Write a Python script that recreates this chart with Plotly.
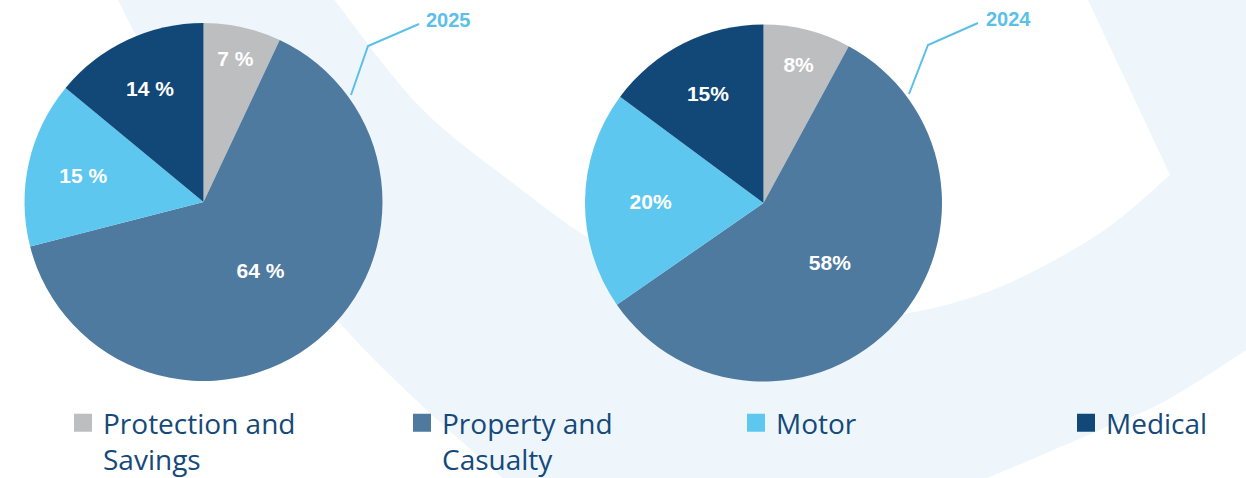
import plotly.graph_objects as go

# ---------------- data ----------------
categories = ["Protection and<br>Savings", "Property and<br>Casualty", "Motor", "Medical"]
values_2025 = [7, 64, 15, 14]
values_2024 = [8, 58, 20, 15]
years = ["2025", "2024"]

colors = ["#BDBEC0", "#4E7AA0", "#5DC7F0", "#124878"]
W, H = 1246, 478
BG_LIGHT = "#EEF6FC"
ACCENT = "#5BC0E8"
NAVY = "#15497A"


def P(x, y):
    return x / W, 1 - y / H


def smooth(pts):
    """Catmull-Rom through pixel points -> SVG cubic segments in paper coords."""
    out = []
    n = len(pts)
    for i in range(n - 1):
        p0 = pts[i - 1] if i > 0 else pts[i]
        p1 = pts[i]
        p2 = pts[i + 1]
        p3 = pts[i + 2] if i + 2 < n else pts[i + 1]
        c1 = (p1[0] + (p2[0] - p0[0]) / 6, p1[1] + (p2[1] - p0[1]) / 6)
        c2 = (p2[0] - (p3[0] - p1[0]) / 6, p2[1] - (p3[1] - p1[1]) / 6)
        a, b, c = P(*c1), P(*c2), P(*p2)
        out.append(f"C {a[0]:.5f},{a[1]:.5f} {b[0]:.5f},{b[1]:.5f} {c[0]:.5f},{c[1]:.5f}")
    return " ".join(out)


def pt(x, y):
    a = P(x, y)
    return f"{a[0]:.5f},{a[1]:.5f}"


inner = [(333, -2), (420, 107), (513, 183), (587, 237), (650, 270), (750, 300),
         (850, 316), (910, 313), (1000, 287), (1100, 233), (1170, 175)]
right_outer = [(1248, 349), (1167, 400), (1100, 430), (983, 480)]
left_outer = [(505, 480), (416, 400), (340, 323), (240, 200), (174, 100), (140, 43), (117, -2)]

bg_path = (
    f"M {pt(117, -2)} L {pt(333, -2)} " + smooth(inner) +
    f" L {pt(1087, -2)} L {pt(1248, -2)} L {pt(1248, 349)} " + smooth(right_outer) +
    f" L {pt(505, 480)} " + smooth(left_outer) + " Z"
)

fig = go.Figure()

domains = [
    dict(x=[22.5 / W, 384.5 / W], y=[1 - 381 / H, 1 - 23 / H]),
    dict(x=[585 / W, 942 / W], y=[1 - 382 / H, 1 - 24 / H]),
]
templates = ["%{value} %", "%{value}%"]

for vals, dom, tpl, yr in zip([values_2025, values_2024], domains, templates, years):
    fig.add_trace(go.Pie(
        labels=categories,
        values=vals,
        name=yr,
        sort=False,
        direction="clockwise",
        rotation=0,
        domain=dom,
        marker=dict(colors=colors, line=dict(width=0)),
        texttemplate=tpl,
        textposition="inside",
        insidetextorientation="horizontal",
        insidetextfont=dict(family="Liberation Sans, Arial, sans-serif", size=21,
                            color="white", weight="bold"),
        showlegend=False,
        hoverinfo="label+value",
    ))

# legend entries (one per category, colour-keyed like the slices)
legend_widths = [294, 289, 285, 120]
for cat, col, lw in zip(categories, colors, legend_widths):
    fig.add_trace(go.Scatter(
        x=[None], y=[None], mode="markers", name=cat,
        marker=dict(symbol="square", size=16, color=col, line=dict(width=2, color=col)),
        legendwidth=lw, showlegend=True, hoverinfo="skip",
    ))

# leader lines + year labels
leaders = [
    [(351, 95), (368, 46), (419, 24)],
    [(909, 94), (928, 45), (978, 23)],
]
label_pos = [(424, 20), (984, 19)]
shapes = [dict(type="path", xref="paper", yref="paper", path=bg_path,
               fillcolor=BG_LIGHT, line=dict(width=0), layer="below")]
annotations = []
for pts_, yr, lp in zip(leaders, years, label_pos):
    path = f"M {pt(*pts_[0])} L {pt(*pts_[1])} L {pt(*pts_[2])}"
    shapes.append(dict(type="path", xref="paper", yref="paper", path=path,
                       line=dict(color=ACCENT, width=2), layer="above"))
    ax, ay = P(*lp)
    annotations.append(dict(text=yr, x=ax, y=ay, xref="paper", yref="paper",
                            xanchor="left", yanchor="middle", showarrow=False,
                            font=dict(family="Liberation Sans, Arial, sans-serif",
                                      size=20, color=ACCENT, weight="bold")))

fig.update_layout(
    width=W, height=H,
    margin=dict(l=0, r=0, t=0, b=0, autoexpand=False),
    paper_bgcolor="white",
    plot_bgcolor="rgba(0,0,0,0)",
    xaxis=dict(visible=False, range=[0, 1]),
    yaxis=dict(visible=False, range=[0, 1]),
    shapes=shapes,
    annotations=annotations,
    uniformtext=dict(minsize=21, mode="show"),
    legend=dict(
        orientation="h",
        x=63 / W, xanchor="left",
        y=1 - 398 / H, yanchor="top",
        valign="top",
        font=dict(family="Open Sans, Noto Sans, sans-serif", size=28, color=NAVY),
        bgcolor="rgba(0,0,0,0)",
        traceorder="normal",
        itemclick=False, itemdoubleclick=False,
    ),
)

fig.write_html("out.html", config={"displayModeBar": False},
               post_script="document.body.style.margin='0';")
